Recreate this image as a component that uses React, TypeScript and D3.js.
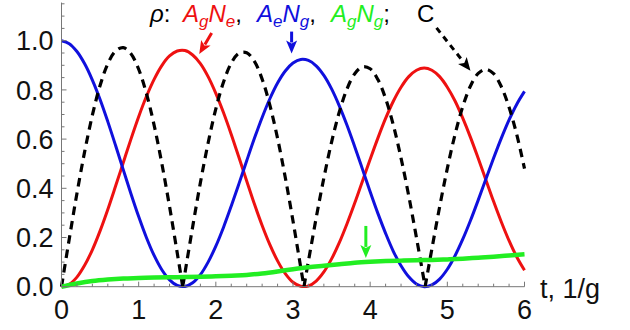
import React from 'react';
import * as d3 from 'd3';

// time grid for the red / blue curves
const tGrid = [
  0, 0.1, 0.2, 0.3, 0.4, 0.5, 0.6, 0.7, 0.8, 0.9,
  1.0, 1.1, 1.2, 1.3, 1.4, 1.5, 1.6, 1.7, 1.8, 1.9,
  2.0, 2.1, 2.2, 2.3, 2.4, 2.5, 2.6, 2.7, 2.8, 2.9,
  3.0, 3.1, 3.2, 3.3, 3.4, 3.5, 3.6, 3.7, 3.8, 3.9,
  4.0, 4.1, 4.2, 4.3, 4.4, 4.5, 4.6, 4.7, 4.8, 4.9,
  5.0, 5.1, 5.2, 5.3, 5.4, 5.5, 5.6, 5.7, 5.8, 5.9, 6.0,
];

// rho A_g N_e (red)
const rhoAgNe = [
  0, 0.010, 0.039, 0.087, 0.150, 0.227, 0.314, 0.408, 0.504, 0.600,
  0.691, 0.773, 0.843, 0.899, 0.938, 0.958, 0.960, 0.942, 0.907, 0.854,
  0.786, 0.707, 0.619, 0.525, 0.430, 0.336, 0.249, 0.171, 0.105, 0.053,
  0.018, 0.002, 0.003, 0.023, 0.060, 0.113, 0.179, 0.256, 0.340, 0.429,
  0.518, 0.604, 0.684, 0.754, 0.811, 0.854, 0.880, 0.889, 0.880, 0.854,
  0.811, 0.755, 0.685, 0.607, 0.522, 0.434, 0.346, 0.263, 0.187, 0.121, 0.067,
];

// rho A_e N_g (blue)
const rhoAeNg = [
  1.000, 0.988, 0.956, 0.906, 0.840, 0.761, 0.671, 0.575, 0.476, 0.378,
  0.285, 0.200, 0.127, 0.069, 0.028, 0.005, 0.001, 0.016, 0.049, 0.100,
  0.165, 0.242, 0.328, 0.419, 0.512, 0.603, 0.688, 0.764, 0.828, 0.877,
  0.909, 0.924, 0.920, 0.898, 0.859, 0.804, 0.735, 0.656, 0.569, 0.478,
  0.386, 0.298, 0.217, 0.144, 0.085, 0.040, 0.011, 0.000, 0.007, 0.031,
  0.071, 0.126, 0.193, 0.269, 0.352, 0.438, 0.523, 0.604, 0.678, 0.742, 0.794,
];

// concurrence C (black dashed), with its zero points
const tC = [
  0, 0.1, 0.2, 0.3, 0.4, 0.5, 0.6, 0.7, 0.8, 0.9,
  1.0, 1.1, 1.2, 1.3, 1.4, 1.5, 1.571, 1.6, 1.7, 1.8, 1.9,
  2.0, 2.1, 2.2, 2.3, 2.4, 2.5, 2.6, 2.7, 2.8, 2.9,
  3.0, 3.1, 3.142, 3.2, 3.3, 3.4, 3.5, 3.6, 3.7, 3.8, 3.9,
  4.0, 4.1, 4.2, 4.3, 4.4, 4.5, 4.6, 4.7, 4.712, 4.8, 4.9,
  5.0, 5.1, 5.2, 5.3, 5.4, 5.5, 5.6, 5.7, 5.8, 5.9, 6.0,
];
const concurrence = [
  0, 0.193, 0.379, 0.549, 0.697, 0.818, 0.906, 0.958, 0.972, 0.947,
  0.884, 0.786, 0.657, 0.501, 0.326, 0.137, 0, 0.056, 0.244, 0.423, 0.584,
  0.723, 0.832, 0.909, 0.949, 0.951, 0.916, 0.844, 0.738, 0.603, 0.444,
  0.267, 0.079, 0, 0.104, 0.279, 0.442, 0.588, 0.710, 0.804, 0.866, 0.894,
  0.886, 0.842, 0.765, 0.657, 0.523, 0.369, 0.199, 0.022, 0, 0.154, 0.324,
  0.481, 0.619, 0.732, 0.816, 0.867, 0.884, 0.866, 0.813, 0.729, 0.618, 0.480,
];

// rho A_g N_g (green)
const tGreen = [
  0, 0.2, 0.4, 0.6, 0.8, 1.0, 1.2, 1.4, 1.6, 1.8, 2.0, 2.2, 2.4, 2.6, 2.8, 3.0,
  3.2, 3.4, 3.6, 3.8, 4.0, 4.2, 4.4, 4.6, 4.8, 5.0, 5.2, 5.4, 5.6, 5.8, 6.0,
];
const rhoAgNg = [
  0, 0.013, 0.023, 0.029, 0.033, 0.035, 0.037, 0.038, 0.039, 0.040, 0.042, 0.045,
  0.048, 0.054, 0.062, 0.071, 0.079, 0.085, 0.091, 0.097, 0.101, 0.104, 0.106,
  0.108, 0.109, 0.111, 0.114, 0.118, 0.122, 0.127, 0.132,
];

const xMajor = [0, 1, 2, 3, 4, 5, 6];
const xTickLabels = ['0', '1', '2', '3', '4', '5', '6'];
const yMajor = [0, 0.2, 0.4, 0.6, 0.8, 1.0];
const yTickLabels = ['0.0', '0.2', '0.4', '0.6', '0.8', '1.0'];

const RED = '#ee1111';
const BLUE = '#1010dd';
const GREEN = '#22ee22';
const FONT = '"Liberation Sans", Arial, sans-serif';

// annotation arrows in data units
const arrows = [
  { from: [1.946, 1.031], to: [1.785, 0.946], color: RED, dashed: false },
  { from: [2.982, 1.037], to: [2.982, 0.948], color: BLUE, dashed: false },
  { from: [4.86, 1.052], to: [5.3, 0.878], color: '#000', dashed: true },
  { from: [3.944, 0.247], to: [3.944, 0.117], color: GREEN, dashed: false },
];

const x = d3.scaleLinear().domain([0, 6]).range([61.5, 524.5]);
const y = d3.scaleLinear().domain([0, 1]).range([286.7, 40.7]);
const yTop = 1.155;

function smoothPath(ts: number[], vs: number[]) {
  const line = d3
    .line<number>()
    .x((_, i) => x(ts[i]))
    .y((v) => y(v))
    .curve(d3.curveCatmullRom);
  return line(vs) || '';
}

function lobedPath(ts: number[], vs: number[]) {
  // split the series at its zero points so the cusps stay sharp
  const parts: string[] = [];
  let curT: number[] = [];
  let curV: number[] = [];
  vs.forEach((v, i) => {
    curT.push(ts[i]);
    curV.push(v);
    if (v === 0 && curT.length > 1) {
      parts.push(smoothPath(curT, curV));
      curT = [ts[i]];
      curV = [v];
    }
  });
  if (curT.length > 1) parts.push(smoothPath(curT, curV));
  return parts.join(' ');
}

function Arrow({ a }: { a: (typeof arrows)[number] }) {
  const x1 = x(a.from[0]);
  const y1 = y(a.from[1]);
  const x2 = x(a.to[0]);
  const y2 = y(a.to[1]);
  const dx = x2 - x1;
  const dy = y2 - y1;
  const len = Math.hypot(dx, dy);
  const ux = dx / len;
  const uy = dy / len;
  const headLen = 13;
  const headW = 5.5;
  const bx = x2 - ux * headLen;
  const by = y2 - uy * headLen;
  const px = -uy;
  const py = ux;
  const pts = [
    [x2, y2],
    [bx + px * headW, by + py * headW],
    [bx + ux * 3, by + uy * 3],
    [bx - px * headW, by - py * headW],
  ]
    .map((p) => p.join(','))
    .join(' ');
  return (
    <g>
      <line
        x1={x1}
        y1={y1}
        x2={bx + ux * 2}
        y2={by + uy * 2}
        stroke={a.color}
        strokeWidth={3}
        strokeDasharray={a.dashed ? '6,5' : undefined}
      />
      <polygon points={pts} fill={a.color} />
    </g>
  );
}

function Species({ xPos, color, a, b, sep }: { xPos: number; color: string; a: string; b: string; sep: string }) {
  return (
    <text x={xPos} y={22} fill={color} fontStyle="italic">
      A<tspan fontSize={17} dy={5}>{a}</tspan>
      <tspan dy={-5}>N</tspan>
      <tspan fontSize={17} dy={5}>{b}</tspan>
      <tspan dy={-5} fill="#000" fontStyle="normal">{sep}</tspan>
    </text>
  );
}

export default function App() {
  const xMinor: number[] = [];
  for (let k = 0; k <= 30; k++) if (k % 5 !== 0) xMinor.push(k * 0.2);
  const yMinor: number[] = [];
  for (let k = 0; k <= 23; k++) if (k % 4 !== 0) yMinor.push(k * 0.05);

  const axisColor = '#777';
  const y0 = y(0);
  const x0 = x(0);

  return (
    <svg
      width={630}
      height={330}
      style={{ position: 'absolute', left: 0, top: 0, background: '#fff' }}
      fontFamily={FONT}
    >
      <rect width={630} height={330} fill="#fff" />
      {/* curves */}
      <path d={smoothPath(tGrid, rhoAgNe)} fill="none" stroke={RED} strokeWidth={3} />
      <path d={smoothPath(tGrid, rhoAeNg)} fill="none" stroke={BLUE} strokeWidth={3} />
      <path
        d={lobedPath(tC, concurrence)}
        fill="none"
        stroke="#000"
        strokeWidth={3.2}
        strokeDasharray="8.5,6"
      />
      <path d={smoothPath(tGreen, rhoAgNg)} fill="none" stroke={GREEN} strokeWidth={4.5} />

      {/* axes */}
      <line x1={x0} x2={x(6)} y1={y0} y2={y0} stroke={axisColor} strokeWidth={1} />
      <line x1={x0} x2={x0} y1={y0} y2={y(yTop)} stroke={axisColor} strokeWidth={1} />
      {xMajor.map((t, i) => (
        <g key={'xm' + t}>
          <line x1={x(t)} x2={x(t)} y1={y0} y2={y0 - 5} stroke={axisColor} />
          <text x={x(t)} y={319} fontSize={27} textAnchor="middle" fill="#111">
            {xTickLabels[i]}
          </text>
        </g>
      ))}
      {xMinor.map((t) => (
        <line key={'xn' + t} x1={x(t)} x2={x(t)} y1={y0} y2={y0 - 3} stroke={axisColor} />
      ))}
      {yMajor.map((v, i) => (
        <g key={'ym' + v}>
          <line x1={x0} x2={x0 + 5} y1={y(v)} y2={y(v)} stroke={axisColor} />
          <text x={53.5} y={y(v) + 9.7} fontSize={27} textAnchor="end" fill="#111">
            {yTickLabels[i]}
          </text>
        </g>
      ))}
      {yMinor.map((v) => (
        <line key={'yn' + v} x1={x0} x2={x0 + 3} y1={y(v)} y2={y(v)} stroke={axisColor} />
      ))}
      <text x={540} y={297.5} fontSize={27} fill="#111">
        t, 1/g
      </text>

      {/* legend */}
      <g fontSize={24}>
        <text x={150} y={22} fill="#000">
          <tspan fontStyle="italic">ρ</tspan>:
        </text>
        <Species xPos={183} color={RED} a="g" b="e" sep="," />
        <Species xPos={257} color={BLUE} a="e" b="g" sep="," />
        <Species xPos={331} color={GREEN} a="g" b="g" sep=";" />
        <text x={417} y={22} fill="#000">C</text>
      </g>

      {arrows.map((a, i) => (
        <Arrow key={i} a={a} />
      ))}
    </svg>
  );
}
